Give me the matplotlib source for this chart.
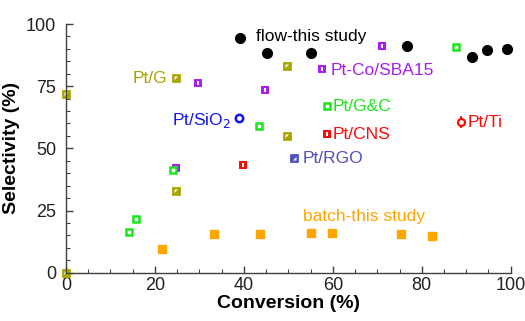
import matplotlib
matplotlib.use("Agg")
import matplotlib.pyplot as plt
import numpy as np
from matplotlib.path import Path
from matplotlib.ticker import MultipleLocator

plt.rcParams['font.family'] = ['Liberation Sans', 'DejaVu Sans']

# ---- data ----
flow_x = [39.1, 45.3, 55.0, 76.6, 91.2, 94.6, 99.1]
flow_y = [94.5, 88.5, 88.5, 91.0, 86.6, 89.4, 90.1]

batch_x = [21.7, 33.2, 43.6, 55.2, 59.9, 75.3, 82.4]
batch_y = [9.7, 15.6, 15.4, 16.0, 16.1, 15.7, 14.6]

ptg_x = [0.0, 0.0, 24.7, 24.7, 49.6, 49.6]
ptg_y = [0.0, 71.7, 78.2, 33.0, 83.2, 55.1]

ptco_x = [29.7, 44.7, 71.0, 57.6, 24.7]
ptco_y = [76.2, 73.3, 91.3, 82.0, 42.0]

ptgc_x = [43.4, 87.6, 58.6, 24.0, 15.8, 14.1]
ptgc_y = [59.0, 90.6, 67.0, 41.4, 21.6, 16.4]

ptcns_x = [58.6, 39.8]
ptcns_y = [55.6, 43.4]

ptti_x = [88.8]
ptti_y = [60.7]
ptti_err = [2.5]

ptsio2_x = [38.9]
ptsio2_y = [62.1]

ptrgo_x = [51.2]
ptrgo_y = [46.2]

x_ticks = [0, 20, 40, 60, 80, 100]
y_ticks = [0, 25, 50, 75, 100]

# ---- colours ----
c_olive = '#A8A400'
c_purple = '#A81EF0'
c_green = '#19E619'
c_red = '#FF0A0A'
c_blue = '#1414F0'
c_slate = '#5050BE'
c_orange = '#FFA500'


def signed_area(pts):
    a = 0.0
    for i in range(len(pts)):
        x1, y1 = pts[i]
        x2, y2 = pts[(i + 1) % len(pts)]
        a += x1 * y2 - x2 * y1
    return a / 2


def hole_marker(hole):
    outer = [(-1, -1), (1, -1), (1, 1), (-1, 1)]  # CCW
    inner = list(hole)
    if signed_area(inner) > 0:  # make inner CW
        inner = inner[::-1]
    verts = outer + [outer[0]] + inner + [inner[0]]
    codes = ([Path.MOVETO] + [Path.LINETO] * 3 + [Path.CLOSEPOLY]
             + [Path.MOVETO] + [Path.LINETO] * (len(inner) - 1) + [Path.CLOSEPOLY])
    return Path(verts, codes)


bar_marker = hole_marker([(-0.2, -0.45), (-0.2, 0.45), (0.2, 0.45), (0.2, -0.45)])
ul_marker = hole_marker([(-0.45, 0.45), (0.35, 0.45), (-0.45, -0.35)])
lr_marker = hole_marker([(0.45, -0.45), (0.45, 0.35), (-0.35, -0.45)])

fig = plt.figure(figsize=(5.25, 3.21), dpi=100)
ax = fig.add_axes([0.1257, 0.1505, 0.8471, 0.7747])

ms = 6.3
ax.plot(batch_x, batch_y, 's', color=c_orange, ms=ms, mec=c_orange, clip_on=False)
ax.plot(ptg_x, ptg_y, linestyle='none', marker=ul_marker, color=c_olive, ms=ms, mew=0, clip_on=False)
ax.plot(ptco_x, ptco_y, linestyle='none', marker=bar_marker, color=c_purple, ms=ms, mew=0, clip_on=False)
ax.plot(ptgc_x, ptgc_y, 's', mfc='white', mec=c_green, ms=4.8, mew=1.8, clip_on=False)
ax.plot(ptcns_x, ptcns_y, linestyle='none', marker=bar_marker, color=c_red, ms=ms, mew=0, clip_on=False)
ax.errorbar(ptti_x, ptti_y, yerr=ptti_err, fmt='o', mfc='white', mec=c_red, ecolor=c_red,
            ms=5, mew=1.6, elinewidth=1.3, capsize=0)
ax.plot(ptsio2_x, ptsio2_y, 'o', mfc='white', mec=c_blue, ms=5.3, mew=1.8)
ax.plot(ptrgo_x, ptrgo_y, linestyle='none', marker=lr_marker, color=c_slate, ms=ms, mew=0)
ax.plot(flow_x, flow_y, 'o', color='black', ms=7, clip_on=False)

fs = 12.5
ax.text(42.8, 95.0, 'flow-this study', color='black', fontsize=fs, va='center', ha='left')
ax.text(22.7, 78.2, 'Pt/G', color=c_olive, fontsize=fs, va='center', ha='right')
ax.text(59.5, 81.4, 'Pt-Co/SBA15', color=c_purple, fontsize=fs, va='center', ha='left')
ax.text(37.0, 61.2, 'Pt/SiO$_2$', color=c_blue, fontsize=fs, va='center', ha='right')
ax.text(60.0, 66.8, 'Pt/G&C', color=c_green, fontsize=fs, va='center', ha='left')
ax.text(60.0, 55.4, 'Pt/CNS', color=c_red, fontsize=fs, va='center', ha='left')
ax.text(90.3, 60.2, 'Pt/Ti', color=c_red, fontsize=fs, va='center', ha='left')
ax.text(53.3, 46.0, 'Pt/RGO', color=c_slate, fontsize=fs, va='center', ha='left')
ax.text(53.2, 22.6, 'batch-this study', color=c_orange, fontsize=fs, va='center', ha='left')

ax.set_xlim(0, 100)
ax.set_ylim(0, 100)
ax.set_xticks(x_ticks)
ax.set_yticks(y_ticks)
ax.xaxis.set_minor_locator(MultipleLocator(5))
ax.yaxis.set_minor_locator(MultipleLocator(5))
ax.spines['top'].set_visible(False)
ax.spines['right'].set_visible(False)
for s in ('left', 'bottom'):
    ax.spines[s].set_color('#404040')
    ax.spines[s].set_linewidth(1.0)
ax.tick_params(which='both', direction='in', colors='#404040', labelcolor='#222222', labelsize=13)
ax.tick_params(which='major', length=5, width=1.0)
ax.tick_params(which='minor', length=3, width=0.8)
ax.tick_params(axis='x', pad=3)
ax.tick_params(axis='y', pad=7)

ax.set_xlabel('Conversion (%)', fontsize=14, fontweight='bold', labelpad=1)
ax.set_ylabel('Selectivity (%)', fontsize=14, fontweight='bold', labelpad=4)

fig.savefig('out.png', dpi=100)
